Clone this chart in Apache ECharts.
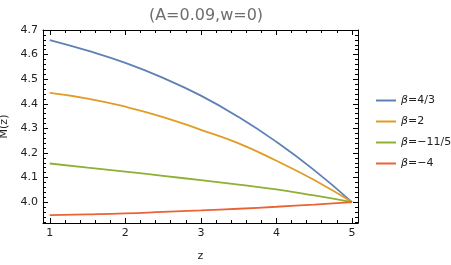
<!DOCTYPE html>
<html><head><meta charset="utf-8">
<script src="https://cdn.jsdelivr.net/npm/echarts@6/dist/echarts.min.js"></script>
<style>html,body{margin:0;padding:0;background:#fff}#c{width:451px;height:265px}</style>
</head><body><div id="c"></div>
<script>
var zValues = [1, 1.5, 2, 2.5, 3, 3.5, 4, 4.5, 5];
var seriesNames = ['β=4/3', 'β=2', 'β=−11/5', 'β=−4'];
var beta43 = [4.659, 4.616, 4.566, 4.505, 4.433, 4.346, 4.245, 4.130, 4.0];
var beta2 = [4.444, 4.421, 4.388, 4.346, 4.294, 4.239, 4.168, 4.090, 4.0];
var betaM115 = [4.157, 4.140, 4.124, 4.107, 4.089, 4.071, 4.052, 4.027, 4.0];
var betaM4 = [3.947, 3.950, 3.954, 3.960, 3.966, 3.973, 3.981, 3.990, 4.0];
var xTickStep = 1, yTickStep = 0.1;
var colors = ['#5E81B5', '#E19C24', '#8FB032', '#EB6235'];

var XMIN = 0.91, XMAX = 5.08, YMIN = 3.915, YMAX = 4.7;
var font = 'DejaVu Sans';
function onStep(v, step) { var q = v / step; return Math.abs(q - Math.round(q)) < 1e-6; }
function xa(pos, labels) {
  return {type: 'value', position: pos, min: XMIN, max: XMAX, splitNumber: 5,
    axisLine: {show: true, onZero: false, lineStyle: {color: '#000', width: 1}},
    axisTick: {show: true, inside: true, length: 5},
    minorTick: {show: true, splitNumber: 5, length: 3},
    minorSplitLine: {show: false},
    axisLabel: labels ? {show: true, showMinLabel: false, showMaxLabel: false, color: '#222', fontFamily: font, fontSize: 11, margin: 5,
      formatter: function (v) { return onStep(v, xTickStep) ? String(Math.round(v)) : ''; }} : {show: false},
    splitLine: {show: false},
    name: labels ? 'z' : '', nameLocation: 'middle', nameGap: 28,
    nameTextStyle: {color: '#222', fontFamily: font, fontSize: 11}};
}
function ya(pos, labels) {
  return {type: 'value', position: pos, min: YMIN, max: YMAX, splitNumber: 8,
    axisLine: {show: true, onZero: false, lineStyle: {color: '#000', width: 1}},
    axisTick: {show: true, inside: true, length: 5},
    minorTick: {show: true, splitNumber: 5, length: 3},
    minorSplitLine: {show: false},
    axisLabel: labels ? {show: true, showMinLabel: false, color: '#222', fontFamily: font, fontSize: 11, margin: 5,
      formatter: function (v) { return onStep(v, yTickStep) ? v.toFixed(1) : ''; }} : {show: false},
    splitLine: {show: false},
    name: labels ? 'M(z)' : '', nameLocation: 'middle', nameGap: 25, nameRotate: 90,
    nameTextStyle: {color: '#222', fontFamily: font, fontSize: 11}};
}
var allData = [beta43, beta2, betaM115, betaM4];
var series = allData.map(function (arr, k) {
  return {name: seriesNames[k], type: 'line', xAxisIndex: 0, yAxisIndex: 0,
    data: zValues.map(function (z, i) { return [z, arr[i]]; }),
    smooth: true, showSymbol: false, symbol: 'none',
    lineStyle: {color: colors[k], width: 1.8}, itemStyle: {color: colors[k]}};
});
var chart = echarts.init(document.getElementById('c'));
chart.setOption({
  animation: false,
  backgroundColor: '#fff',
  title: {text: '(A=0.09,w=0)', left: 201, textAlign: 'center', top: 3,
    textStyle: {color: '#6e6e6e', fontFamily: font, fontSize: 16, fontWeight: 'normal'}},
  grid: {left: 43, right: 93, top: 30, bottom: 42, outerBoundsMode: 'none', containLabel: false},
  xAxis: [xa('bottom', true), xa('top', false)],
  yAxis: [ya('left', true), ya('right', false)],
  legend: {orient: 'vertical', left: 371, top: 90, itemWidth: 20, itemHeight: 2, itemGap: 10, icon: 'rect',
    data: seriesNames,
    formatter: function (n) { return n.replace('β', '{i|β}'); },
    textStyle: {color: '#222', fontFamily: font, fontSize: 11,
      rich: {i: {fontStyle: 'italic', fontFamily: font, fontSize: 11, color: '#222'}}}},
  series: series
});
</script></body></html>
